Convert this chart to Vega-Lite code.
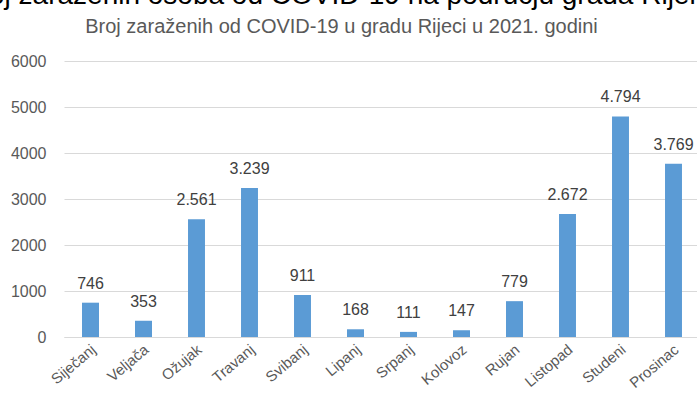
{
  "$schema": "https://vega.github.io/schema/vega-lite/v6.json",
  "autosize": "none",
  "width": 636,
  "height": 276,
  "padding": {"left": 64, "top": 61, "right": 0, "bottom": 65},
  "background": "white",
  "title": {
    "text": "Broj zaraženih osoba od COVID-19 na području grada Rijeke",
    "anchor": "middle",
    "frame": "group",
    "dx": -42,
    "offset": 6,
    "font": "Liberation Sans",
    "fontSize": 28,
    "fontWeight": "normal",
    "color": "#000000"
  },
  "config": {
    "view": {"stroke": null},
    "locale": {"number": {"decimal": ",", "thousands": ".", "grouping": [3], "currency": ["", ""]}},
    "font": "Liberation Sans"
  },
  "data": {
    "values": [
      {"mjesec": "Siječanj", "zarazeni": 746},
      {"mjesec": "Veljača", "zarazeni": 353},
      {"mjesec": "Ožujak", "zarazeni": 2561},
      {"mjesec": "Travanj", "zarazeni": 3239},
      {"mjesec": "Svibanj", "zarazeni": 911},
      {"mjesec": "Lipanj", "zarazeni": 168},
      {"mjesec": "Srpanj", "zarazeni": 111},
      {"mjesec": "Kolovoz", "zarazeni": 147},
      {"mjesec": "Rujan", "zarazeni": 779},
      {"mjesec": "Listopad", "zarazeni": 2672},
      {"mjesec": "Studeni", "zarazeni": 4794},
      {"mjesec": "Prosinac", "zarazeni": 3769}
    ]
  },
  "encoding": {
    "x": {
      "field": "mjesec",
      "type": "nominal",
      "sort": null,
      "scale": {"paddingInner": 0.68, "paddingOuter": 0.34},
      "axis": {
        "title": null,
        "labelAngle": -40,
        "labelAlign": "right",
        "labelBaseline": "middle",
        "labelFontSize": 15,
        "labelColor": "#595959",
        "labelPadding": 10,
        "labelOffset": 3,
        "ticks": false,
        "domainColor": "#d9d9d9",
        "domainWidth": 1,
        "grid": false
      }
    },
    "y": {
      "field": "zarazeni",
      "type": "quantitative",
      "scale": {"domain": [0, 6000], "nice": false},
      "axis": {
        "values": [0, 1000, 2000, 3000, 4000, 5000, 6000],
        "format": "d",
        "labelFontSize": 16,
        "labelColor": "#595959",
        "labelPadding": 18,
        "ticks": false,
        "domain": false,
        "gridColor": "#d9d9d9",
        "gridWidth": 1,
        "title": "Broj zaraženih od COVID-19 u gradu Rijeci u 2021. godini",
        "titleAngle": 0,
        "titleX": 277,
        "titleY": -29,
        "titleAlign": "center",
        "titleBaseline": "alphabetic",
        "titleFont": "Liberation Sans",
        "titleFontSize": 20,
        "titleFontWeight": "normal",
        "titleColor": "#595959"
      }
    }
  },
  "layer": [
    {"mark": {"type": "bar", "color": "#5b9bd5"}},
    {
      "mark": {"type": "text", "baseline": "alphabetic", "dy": -14, "fontSize": 16, "color": "#404040"},
      "encoding": {"text": {"field": "zarazeni", "type": "quantitative", "format": ","}}
    }
  ]
}
